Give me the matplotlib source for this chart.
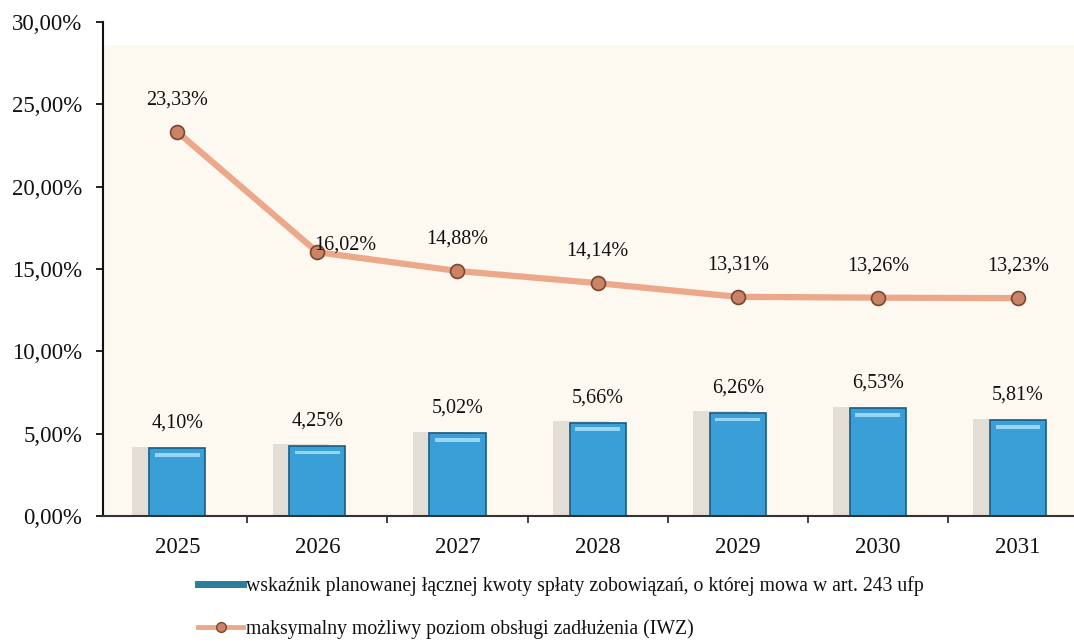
import matplotlib
matplotlib.use("Agg")
import matplotlib.pyplot as plt
from matplotlib.lines import Line2D
from matplotlib.ticker import FuncFormatter
import numpy as np

plt.rcParams['font.family'] = ['Liberation Serif', 'DejaVu Serif']

# Dane
lata = ['2025', '2026', '2027', '2028', '2029', '2030', '2031']
splata = [4.10, 4.25, 5.02, 5.66, 6.26, 6.53, 5.81]      # wskaźnik spłaty (art. 243 ufp)
iwz = [23.33, 16.02, 14.88, 14.14, 13.31, 13.26, 13.23]  # maksymalny poziom IWZ

etykieta_slupki = 'wskaźnik planowanej łącznej kwoty spłaty zobowiązań, o której mowa w art. 243 ufp'
etykieta_linia = 'maksymalny możliwy poziom obsługi zadłużenia (IWZ)'

def pl_proc(v):
    return f'{v:.2f}%'.replace('.', ',')

x = np.arange(len(lata))
szer = 0.4

fig = plt.figure(figsize=(10.74, 6.42), dpi=100)
ax = fig.add_axes([103 / 1074, 126 / 642, 971 / 1074, 494 / 642])
ax.set_xlim(-0.53, 6.4)
ax.set_ylim(0, 30)

# kremowe tło obszaru wykresu
ax.axhspan(0, 28.6, color='#fdf9f1', zorder=0, lw=0)

# cień za słupkami
ax.bar(x - 0.12, np.array(splata) + 0.1, width=szer, color='#e2ddd5', zorder=1, lw=0)
# słupki
ax.bar(x, splata, width=szer, color='#3a9fd6', edgecolor='#1b5b84', lw=1.2, zorder=2)
# jaśniejsza krawędź u góry słupka
ax.bar(x, [0.22] * len(x), bottom=np.array(splata) - 0.5, width=szer * 0.8,
       color='#9ad6f2', lw=0, zorder=3)

for xi, v in zip(x, splata):
    ax.annotate(pl_proc(v), (xi, v), xytext=(0, 18), textcoords='offset points',
                ha='center', va='center', fontsize=14.5, color='#111111', zorder=6)

# linia IWZ
ax.plot(x, iwz, color='#eca88b', lw=4.5, zorder=4, solid_capstyle='round')
ax.plot(x, iwz, ls='none', marker='o', ms=10, mfc='#c98468', mec='#7a4630', mew=1.2, zorder=5)

for i, (xi, v) in enumerate(zip(x, iwz)):
    off = (20, 5) if i == 1 else (0, 23)
    ax.annotate(pl_proc(v), (xi, v), xytext=off, textcoords='offset points',
                ha='center', va='center', fontsize=14.5, color='#111111', zorder=6)

# osie
for s in ['top', 'right']:
    ax.spines[s].set_visible(False)
ax.spines['left'].set_color('#111111')
ax.spines['left'].set_linewidth(1.5)
ax.spines['bottom'].set_color('#333333')
ax.spines['bottom'].set_linewidth(1.5)

ax.set_yticks(np.arange(0, 31, 5))
ax.yaxis.set_major_formatter(FuncFormatter(lambda v, p: pl_proc(v)))
ax.tick_params(axis='y', length=5, width=1.3, pad=10, labelsize=16.5, colors='#111111')

ax.set_xticks(np.arange(0.5, 6, 1))
ax.set_xticklabels([])
ax.set_xticks(x, minor=True)
ax.set_xticklabels(lata, minor=True)
ax.tick_params(axis='x', which='major', length=5, width=1.3, color='#333333')
ax.tick_params(axis='x', which='minor', length=0, pad=15, labelsize=16.5, labelcolor='#111111')

# legenda
uchwyty = [
    Line2D([], [], color='#2a7d9c', lw=5),
    Line2D([], [], color='#eca88b', lw=3.5, marker='o', ms=7, mfc='#c98468', mec='#7a4630'),
]
fig.legend(uchwyty, [etykieta_slupki, etykieta_linia], loc='upper left',
           bbox_to_anchor=(190 / 1074, 1 - 568 / 642), frameon=False, fontsize=14.2,
           handlelength=2.3, handletextpad=0.15, labelspacing=1.2, borderaxespad=0,
           labelcolor='#111111')

fig.savefig('out.png', dpi=100, facecolor='white')
